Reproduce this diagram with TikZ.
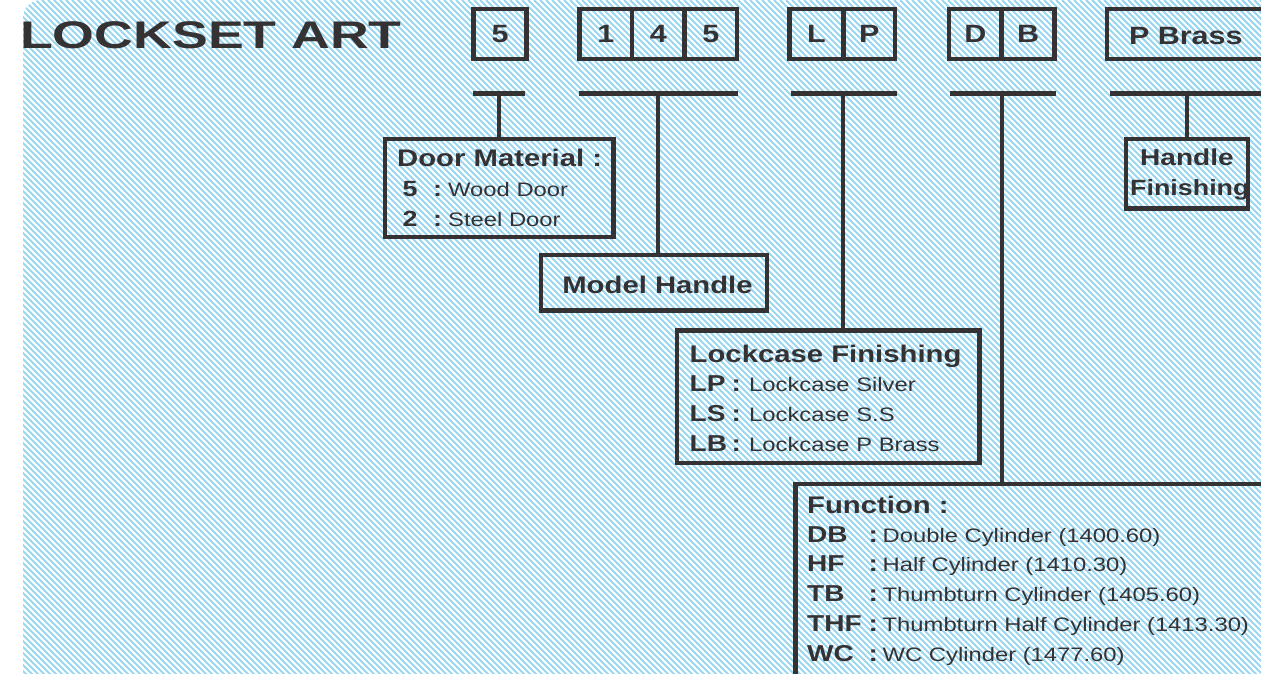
\documentclass[tikz,border=0pt]{standalone}
\usepackage{fontspec}
\setmainfont[FakeStretch=1.22]{Liberation Sans}
\newfontfamily\titlefont[FakeStretch=1.394]{Liberation Sans}
\definecolor{ink}{RGB}{52,50,51}
\definecolor{hatchblue}{RGB}{155,214,241}
\newcommand{\cellt}[1]{\raisebox{-1.8pt}{#1}}
\begin{document}
\begin{tikzpicture}[x=1pt,y=-1pt,
  boxline/.style={draw=ink, line width=4.5pt, inner sep=0pt},
  cell/.style={boxline, minimum height=50pt, font=\fontsize{25}{25}\selectfont\bfseries, text=ink},
  bar/.style={draw=ink, line width=4.5pt},
  stem/.style={draw=ink, line width=4pt},
  head/.style={font=\fontsize{24}{24}\selectfont\bfseries, text=ink, inner sep=0pt, anchor=base west},
  key/.style={font=\fontsize{23}{23}\selectfont\bfseries, text=ink, inner sep=0pt, anchor=base west},
  smallkey/.style={font=\fontsize{22}{22}\selectfont\bfseries, text=ink, inner sep=0pt, anchor=base west},
  val/.style={font=\fontsize{19.5}{19.5}\selectfont, text=ink, inner sep=0pt, anchor=base west}]
\useasboundingbox (0,0) rectangle (1261,674);
\clip (0,0) rectangle (1261,674);
% hatched background
\begin{scope}
  \clip (23,720) [rounded corners=18pt] -- (23,0) -- (1320,0) [sharp corners] -- (1320,720) -- cycle;
  \foreach \c in {-720,-714,...,1320} \draw[hatchblue, line width=2.1pt] (\c,0) -- ++(720,720);
\end{scope}
% title
\node[font=\titlefont\fontsize{38.5}{38.5}\selectfont\bfseries, text=ink, inner sep=0pt, anchor=base west] (title) at (20,48.3) {LOCKSET ART};
% top code cells
\node[cell, minimum width=53pt] (b5) at (500,34) {\cellt{5}};
\node[cell, minimum width=52.5pt] (m1) at (605.75,34) {\cellt{1}};
\node[cell, minimum width=52.5pt] (m2) at (658.25,34) {\cellt{4}};
\node[cell, minimum width=52.5pt] (m3) at (710.75,34) {\cellt{5}};
\node[cell, minimum width=54pt] (l1) at (816.5,34) {\cellt{L}};
\node[cell, minimum width=51.5pt] (l2) at (869.25,34) {\cellt{P}};
\node[cell, minimum width=52.6pt] (d1) at (975.3,34) {\cellt{D}};
\node[cell, minimum width=52.8pt] (d2) at (1028.1,34) {\cellt{B}};
\node[cell, minimum width=200pt] (pb) at (1207,34) {};
\node[font=\fontsize{25}{25}\selectfont\bfseries, text=ink, inner sep=0pt, anchor=base] (pbt) at (1185.8,44.3) {P Brass};
% bars
\coordinate (bar5L) at (473,93.5);    \coordinate (bar5R) at (525,93.5);
\coordinate (bar145L) at (579,93.5);  \coordinate (bar145R) at (737.7,93.5);
\coordinate (barLPL) at (791,93.5);   \coordinate (barLPR) at (896.7,93.5);
\coordinate (barDBL) at (950,93.5);   \coordinate (barDBR) at (1055.7,93.5);
\coordinate (barPBL) at (1110,93.5);  \coordinate (barPBR) at (1300,93.5);
\draw[bar] (bar5L) -- (bar5R);
\draw[bar] (bar145L) -- (bar145R);
\draw[bar] (barLPL) -- (barLPR);
\draw[bar] (barDBL) -- (barDBR);
\draw[bar] (barPBL) -- (barPBR);
\coordinate (s5) at (498.5,93.5);
\coordinate (s145) at (658.3,93.5);
\coordinate (sLP) at (843.3,93.5);
\coordinate (sDB) at (1002,93.5);
\coordinate (sPB) at (1186.7,93.5);
% description boxes
\node[boxline, minimum width=228.5pt, minimum height=98pt] (dm) at (499.25,188) {};
\node[boxline, minimum width=226pt, minimum height=55.5pt] (mh) at (654,282.75) {};
\node[boxline, minimum width=302.5pt, minimum height=132.5pt] (lc) at (828.25,396.75) {};
\node[boxline, minimum width=122pt, minimum height=69.5pt] (hf) at (1187,173.75) {};
\node[boxline, minimum width=524.5pt, minimum height=256pt] (fn) at (1057.75,612) {};
% stems
\draw[stem] (s5) -- (s5 |- dm.north);
\draw[stem] (s145) -- (s145 |- mh.north);
\draw[stem] (sLP) -- (sLP |- lc.north);
\draw[stem] (sDB) -- (sDB |- fn.north);
\draw[stem] (sPB) -- (sPB |- hf.north);
% Door material
\node[head] (dmh) at (397,166.7) {Door Material :};
\node[smallkey] (dmk1) at (402.5,196.7) {5};
\node[smallkey] (dmc1) at (433,196.7) {:};
\node[val] (dmv1) at (448,196.7) {Wood Door};
\node[smallkey] (dmk2) at (402.5,226.7) {2};
\node[smallkey] (dmc2) at (433,226.7) {:};
\node[val] (dmv2) at (448,226.7) {Steel Door};
% Model handle
\node[font=\fontsize{24}{24}\selectfont\bfseries, text=ink, inner sep=0pt, anchor=base] (mht) at (657.5,293.3) {Model Handle};
% Handle finishing
\node[font=\fontsize{23}{23}\selectfont\bfseries, text=ink, inner sep=0pt, anchor=base] (hft1) at (1187,165.7) {Handle};
\node[smallkey] (hft2) at (1130,195) {Finishing};
% Lockcase
\node[head] (lch) at (689.5,362.7) {Lockcase Finishing};
\node[key] (lck1) at (689.5,391.7) {LP};
\node[key] (lcc1) at (731.5,391.7) {:};
\node[val] (lcv1) at (749,391.7) {Lockcase Silver};
\node[key] (lck2) at (689.5,421.7) {LS};
\node[key] (lcc2) at (731.5,421.7) {:};
\node[val] (lcv2) at (749,421.7) {Lockcase S.S};
\node[key] (lck3) at (689.5,451.7) {LB};
\node[key] (lcc3) at (731.5,451.7) {:};
\node[val] (lcv3) at (749,451.7) {Lockcase P Brass};
% Function
\node[head] (fnh) at (807,513.3) {Function :};
\node[key] (fk1) at (807,542.7) {DB};
\node[key] (fc1) at (868.5,542.7) {:};
\node[val] (fv1) at (882.5,542.7) {Double Cylinder (1400.60)};
\node[key] (fk2) at (807,571.7) {HF};
\node[key] (fc2) at (868.5,571.7) {:};
\node[val] (fv2) at (882.5,571.7) {Half Cylinder (1410.30)};
\node[key] (fk3) at (807,601.7) {TB};
\node[key] (fc3) at (868.5,601.7) {:};
\node[val] (fv3) at (882.5,601.7) {Thumbturn Cylinder (1405.60)};
\node[key] (fk4) at (807,631.7) {THF};
\node[key] (fc4) at (868.5,631.7) {:};
\node[val] (fv4) at (882.5,631.7) {Thumbturn Half Cylinder (1413.30)};
\node[key] (fk5) at (807,661.7) {WC};
\node[key] (fc5) at (868.5,661.7) {:};
\node[val] (fv5) at (882.5,661.7) {WC Cylinder (1477.60)};
\end{tikzpicture}
\end{document}
